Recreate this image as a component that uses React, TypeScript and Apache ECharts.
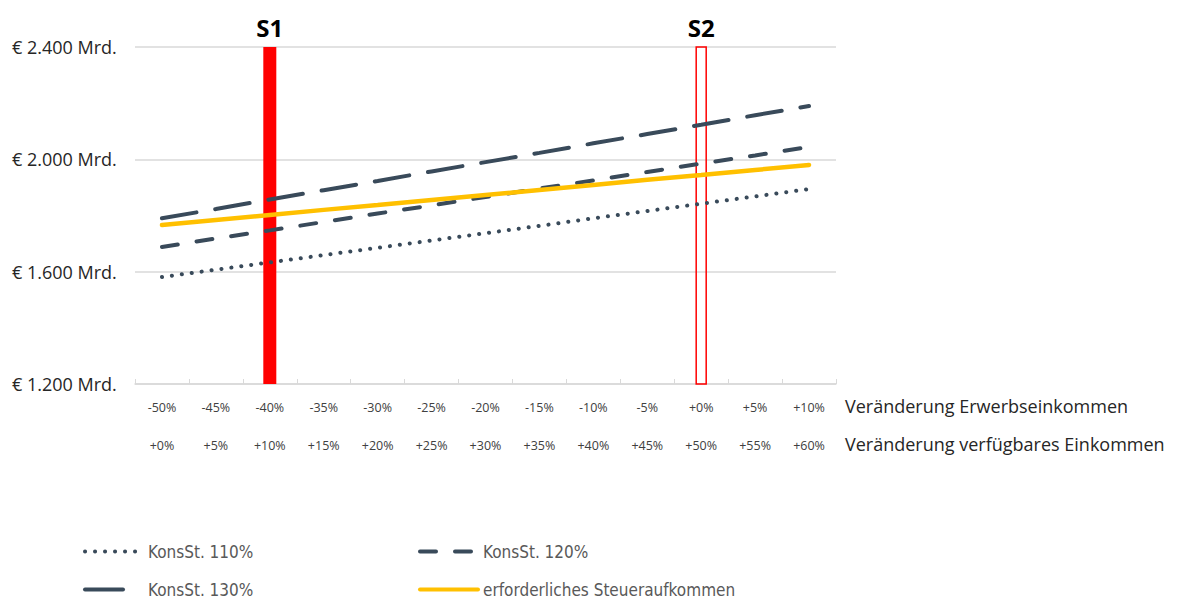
import React, { useEffect, useRef } from "react";
import * as echarts from "echarts";

const erwerbLabels = ["-50%", "-45%", "-40%", "-35%", "-30%", "-25%", "-20%", "-15%", "-10%", "-5%", "+0%", "+5%", "+10%"];
const verfuegbarLabels = ["+0%", "+5%", "+10%", "+15%", "+20%", "+25%", "+30%", "+35%", "+40%", "+45%", "+50%", "+55%", "+60%"];
const axisNames = ["Veränderung Erwerbseinkommen", "Veränderung verfügbares Einkommen"];

const konsSt110 = [1581, 1607, 1633, 1659, 1685, 1711, 1737, 1763, 1790, 1816, 1842, 1868, 1894];
const konsSt120 = [1688, 1718, 1747, 1777, 1807, 1836, 1866, 1896, 1925, 1955, 1985, 2014, 2044];
const konsSt130 = [1790, 1823, 1857, 1890, 1923, 1957, 1990, 2023, 2057, 2090, 2123, 2157, 2190];
const steuer = [1766, 1784, 1802, 1820, 1837, 1855, 1873, 1891, 1909, 1927, 1944, 1962, 1980];

const yTicks = [1200, 1600, 2000, 2400];
// scenario markers: [category index, top value, label]
const scenarios: [number, number, string][] = [
  [2, 2400, "S1"],
  [10, 2400, "S2"],
];

const DARK = "#394a5a";
const YELLOW = "#ffc000";
const RED = "#ff0000";

export default function App() {
  const ref = useRef<HTMLDivElement>(null);

  useEffect(() => {
    if (!ref.current) return;
    const chart = echarts.init(ref.current, undefined, { renderer: "svg" });
    const legendText = { fontSize: 17, color: "#595959", fontFamily: "'Liberation Sans Narrow', 'DejaVu Sans Condensed', sans-serif" };
    const mkLegend = (name: string, left: number, top: number, itemWidth: number, lineType: any) => ({
      show: true,
      data: [name],
      left,
      top,
      itemWidth,
      itemHeight: 12,
      itemGap: 0,
      itemStyle: { opacity: 0 },
      lineStyle: { width: 4, type: lineType, cap: "round" },
      textStyle: legendText,
    });
    chart.setOption({
      animation: false,
      textStyle: { fontFamily: "'Open Sans', sans-serif" },
      grid: { left: 135, right: 341, top: 47, bottom: 215, containLabel: false },
      legend: [
        mkLegend("KonsSt. 110%", 78, 538, 58, [0.1, 9.9]),
        mkLegend("KonsSt. 120%", 413, 538, 58, [16, 19]),
        mkLegend("KonsSt. 130%", 78, 576, 58, [38, 30]),
        mkLegend("erforderliches Steueraufkommen", 413, 576, 58, "solid"),
      ],
      graphic: axisNames.map((t, i) => ({
        type: "text",
        left: 845,
        top: 397 + i * 38,
        style: { text: t, fontSize: 18, fill: "#262626", fontFamily: "'Open Sans', sans-serif" },
      })),
      xAxis: [
        {
          type: "category",
          data: erwerbLabels,
          boundaryGap: true,
          position: "bottom",
          axisLine: { show: true, lineStyle: { color: "#d9d9d9", width: 1.5 } },
          axisTick: { show: true, inside: true, length: 5, lineStyle: { color: "#d9d9d9" } },
          axisLabel: { fontSize: 12.5, color: "#404040", margin: 17 },
        },
        {
          type: "category",
          data: verfuegbarLabels,
          boundaryGap: true,
          position: "bottom",
          offset: 38,
          axisLine: { show: false },
          axisTick: { show: false },
          axisLabel: { fontSize: 12.5, color: "#404040", margin: 17 },
        },
      ],
      yAxis: {
        type: "value",
        min: yTicks[0],
        max: yTicks[yTicks.length - 1],
        interval: 400,
        axisLine: { show: false },
        axisTick: { show: false },
        splitLine: { lineStyle: { color: "#d9d9d9", width: 1.5 } },
        axisLabel: {
          align: "left",
          margin: 123,
          fontSize: 18,
          color: "#262626",
          formatter: (v: number) => "€ " + v.toLocaleString("de-DE") + " Mrd.",
        },
      },
      series: [
        {
          type: "custom",
          name: "Szenarien",
          z: 1,
          xAxisIndex: 0,
          data: scenarios,
          renderItem: (params: any, api: any) => {
            const idx = api.value(0);
            const top = api.coord([idx, api.value(1)]);
            const bottom = api.coord([idx, yTicks[0]]);
            const isS1 = params.dataIndex === 0;
            const w = isS1 ? 13 : 10;
            return {
              type: "group",
              children: [
                {
                  type: "rect",
                  shape: { x: top[0] - w / 2, y: top[1], width: w, height: bottom[1] - top[1] },
                  style: isS1 ? { fill: RED } : { fill: "none", stroke: RED, lineWidth: 1.5 },
                },
                {
                  type: "text",
                  x: top[0],
                  y: top[1] - 8,
                  style: {
                    text: scenarios[params.dataIndex][2],
                    fontSize: 24,
                    fontWeight: "bold",
                    fontFamily: "'Open Sans', sans-serif",
                    fill: "#000",
                    align: "center",
                    verticalAlign: "bottom",
                  },
                },
              ],
            };
          },
        },
        {
          type: "line",
          name: "KonsSt. 110%",
          data: konsSt110,
          z: 3,
          symbol: "none",
          lineStyle: { color: DARK, width: 4, type: [0.1, 9.9], cap: "round" },
          itemStyle: { color: DARK },
        },
        {
          type: "line",
          name: "KonsSt. 120%",
          data: konsSt120,
          z: 3,
          symbol: "none",
          lineStyle: { color: DARK, width: 4, type: [16, 19], cap: "round" },
          itemStyle: { color: DARK },
        },
        {
          type: "line",
          name: "KonsSt. 130%",
          data: konsSt130,
          z: 3,
          symbol: "none",
          lineStyle: { color: DARK, width: 4, type: [35, 19], cap: "round" },
          itemStyle: { color: DARK },
        },
        {
          type: "line",
          name: "erforderliches Steueraufkommen",
          data: steuer,
          z: 3,
          symbol: "none",
          lineStyle: { color: YELLOW, width: 4.5, cap: "round" },
          itemStyle: { color: YELLOW },
        },
      ],
    });
    return () => chart.dispose();
  }, []);

  return <div ref={ref} style={{ width: 1177, height: 599, position: "absolute", left: 0, top: 0 }} />;
}
